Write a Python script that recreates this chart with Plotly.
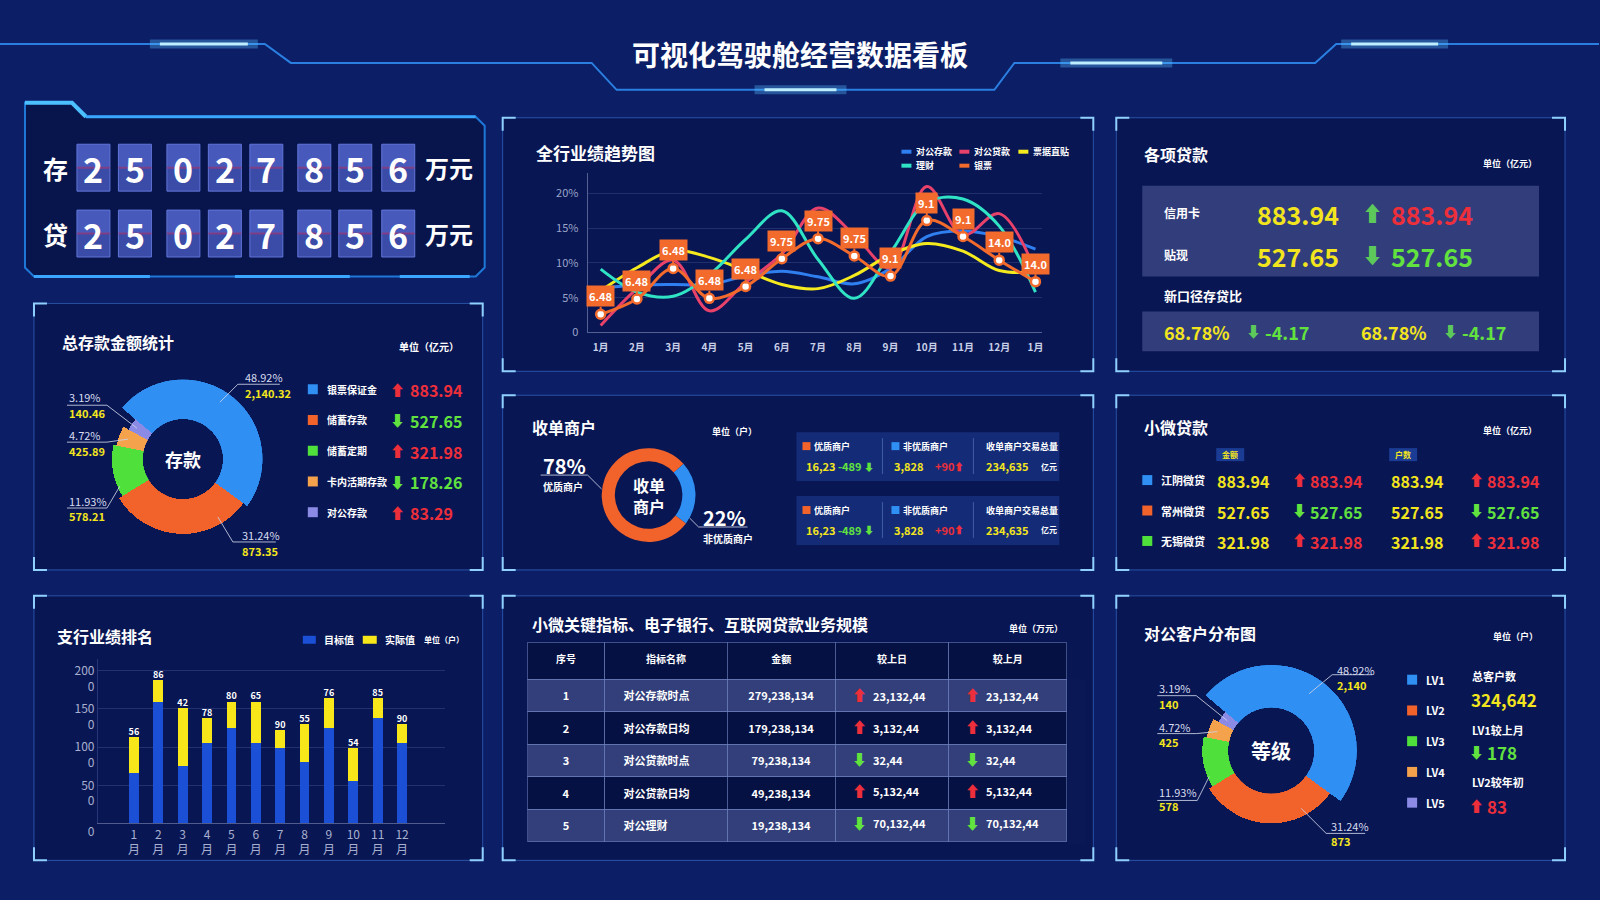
import plotly.graph_objects as go

W, H = 1600, 900
FONT = "Noto Sans CJK SC, Noto Sans, DejaVu Sans, sans-serif"
KY = 1.015  # small vertical correction observed in the photographed page

# ======================= DATA =======================
title_text = "可视化驾驶舱经营数据看板"

counter_labels = ["存", "贷"]
counter_digits = ["2", "5", "0", "2", "7", "8", "5", "6"]
counter_unit = "万元"

deposit_names = ["银票保证金", "储蓄存款", "储蓄定期", "卡内活期存款", "对公存款"]
deposit_share = [48.92, 31.24, 11.93, 4.72, 3.19]
deposit_amount = ["2,140.32", "873.35", "578.21", "425.89", "140.46"]
deposit_change = ["883.94", "527.65", "321.98", "178.26", "83.29"]
deposit_dir = ["up", "down", "up", "down", "up"]

trend_months = ["1月", "2月", "3月", "4月", "5月", "6月", "7月", "8月", "9月", "10月", "11月", "12月", "1月"]
trend_names = ["对公存款", "对公贷款", "票据直贴", "理财", "银票"]
trend_corp_dep = [6.4, 6.8, 6.9, 6.9, 8.1, 8.8, 8.0, 7.0, 9.2, 13.8, 14.6, 13.8, 12.0]
trend_corp_loan = [1.0, 6.3, 10.4, 3.1, 7.2, 11.3, 17.9, 14.0, 9.3, 21.0, 14.0, 17.1, 8.8]
trend_bill = [6.0, 9.3, 11.8, 10.8, 8.9, 6.9, 6.3, 8.2, 11.2, 12.8, 11.7, 8.9, 8.7]
trend_wealth = [9.1, 5.8, 5.2, 8.3, 13.4, 17.5, 10.5, 4.9, 11.5, 18.7, 19.2, 15.3, 5.8]
trend_note = [2.6, 4.8, 9.2, 4.9, 6.6, 10.6, 13.5, 11.0, 8.1, 16.1, 13.8, 10.4, 7.3]
trend_note_labels = ["6.48", "6.48", "6.48", "6.48", "6.48", "9.75", "9.75", "9.75", "9.1", "9.1", "9.1", "14.0", "14.0"]
trend_yticks = [0, 5, 10, 15, 20]
trend_yticktext = ["0", "5%", "10%", "15%", "20%"]

loan_rows = ["信用卡", "贴现"]
loan_values = ["883.94", "527.65"]
loan_changes = ["883.94", "527.65"]
loan_dir = ["up", "down"]
ratio_title = "新口径存贷比"
ratio_values = ["68.78%", "68.78%"]
ratio_changes = ["-4.17", "-4.17"]

merchant_names = ["非优质商户", "优质商户"]
merchant_share = [22, 78]
merchant_stats_head = ["优质商户", "非优质商户", "收单商户交易总量"]
merchant_good = "16,23"
merchant_good_chg = "-489"
merchant_bad = "3,828"
merchant_bad_chg = "+90"
merchant_total = "234,635"

micro_names = ["江阴微贷", "常州微贷", "无锡微贷"]
micro_amount = ["883.94", "527.65", "321.98"]
micro_amount_chg = ["883.94", "527.65", "321.98"]
micro_count = ["883.94", "527.65", "321.98"]
micro_count_chg = ["883.94", "527.65", "321.98"]
micro_dir = ["up", "down", "up"]

branch_months = ["1<br>月", "2<br>月", "3<br>月", "4<br>月", "5<br>月", "6<br>月",
                 "7<br>月", "8<br>月", "9<br>月", "10<br>月", "11<br>月", "12<br>月"]
branch_target = [655, 1594, 751, 1048, 1253, 1048, 983, 799, 1253, 555, 1376, 1048]
branch_actual = [472, 284, 756, 328, 341, 546, 235, 502, 385, 428, 262, 253]
branch_labels = ["56", "86", "42", "78", "80", "65", "90", "55", "76", "54", "85", "90"]
branch_yticks = [0, 500, 1000, 1500, 2000]
branch_yticktext = ["0", "50<br>0", "100<br>0", "150<br>0", "200<br>0"]

tbl_head = ["序号", "指标名称", "金额", "较上日", "较上月"]
tbl_seq = ["1", "2", "3", "4", "5"]
tbl_name = ["对公存款时点", "对公存款日均", "对公贷款时点", "对公贷款日均", "对公理财"]
tbl_amount = ["279,238,134", "179,238,134", "79,238,134", "49,238,134", "19,238,134"]
tbl_day = ["23,132,44", "3,132,44", "32,44", "5,132,44", "70,132,44"]
tbl_month = ["23,132,44", "3,132,44", "32,44", "5,132,44", "70,132,44"]
tbl_dir = ["up", "up", "down", "up", "down"]

cust_names = ["LV1", "LV2", "LV3", "LV4", "LV5"]
cust_share = [48.92, 31.24, 11.93, 4.72, 3.19]
cust_amount = ["2,140", "873", "578", "425", "140"]
cust_total = "324,642"
cust_lv1_chg = "178"
cust_lv2_chg = "83"

# ======================= STYLE =======================
BG = "#0b1e66"
C_BLUE = "#2f8ff2"
C_ORANGE = "#f2622b"
C_GREEN = "#4fe03c"
C_LORANGE = "#f5a24c"
C_PURPLE = "#8b8be6"
SLICE_COLORS = [C_BLUE, C_ORANGE, C_GREEN, C_LORANGE, C_PURPLE]
C_YELLOW = "#f3e51d"
C_RED = "#ec2f3a"
C_GTXT = "#62e23f"
C_GARROW = "#5cc95a"
C_LABEL = "#d8dcf0"
C_LEADER = "rgba(205,210,230,0.85)"
TREND_COLORS = ["#2f7ff0", "#e8416a", "#f4ea1e", "#2fe3c4", "#f26a2c"]
UP, DOWN = "⬆", "⬇"


def X(px):
    return px / W


def Y(py):
    return 1 - py * KY / H


shapes, annos = [], []


def rect(x0, y0, x1, y1, fill="rgba(0,0,0,0)", line="rgba(0,0,0,0)", lw=0):
    shapes.append(dict(type="rect", xref="paper", yref="paper", x0=X(x0), x1=X(x1),
                       y0=Y(y1), y1=Y(y0), fillcolor=fill, line=dict(color=line, width=lw),
                       layer="below"))


def seg(pts, color, w=1, fill=None, closed=False):
    d = "M " + " L ".join(f"{X(a):.5f},{Y(b):.5f}" for a, b in pts)
    if closed:
        d += " Z"
    shapes.append(dict(type="path", xref="paper", yref="paper", path=d,
                       line=dict(color=color, width=w),
                       fillcolor=fill or "rgba(0,0,0,0)", layer="above" if fill is None else "below"))


def txt(x, y, s, size=12, color="#ffffff", bold=False, anchor="left", ya="middle"):
    annos.append(dict(xref="paper", yref="paper", x=X(x), y=Y(y),
                      text=f"<b>{s}</b>" if bold else s, showarrow=False,
                      xanchor=anchor, yanchor=ya,
                      font=dict(family=FONT, size=size, color=color)))


def panel(x0, y0, x1, y1):
    rect(x0, y0, x1, y1, fill="rgba(3,10,48,0.35)", line="rgba(70,130,230,0.55)", lw=1)
    L = 13
    for cx, cy, dx, dy in [(x0, y0, 1, 1), (x1, y0, -1, 1), (x0, y1, 1, -1), (x1, y1, -1, -1)]:
        seg([(cx + dx * L, cy), (cx, cy), (cx, cy + dy * L)], "#8fd0ff", 2)


def slices(shares, total=360.0):
    widths = [s / 100 * total for s in shares]
    centers, acc = [], 0
    for w in widths:
        centers.append(acc + w / 2)
        acc += w
    return centers, widths


# ======================= HEADER =======================
hdr = [(0, 44), (265, 44), (291, 63), (592, 63), (617, 90), (995, 90), (1015, 63),
       (1316, 63), (1337, 44), (1600, 44)]
seg(hdr, "#2a7fe0", 2)
for (a, b, yy) in [(150, 258, 44), (755, 847, 90), (1061, 1173, 63), (1342, 1449, 44)]:
    seg([(a, yy), (b, yy)], "rgba(90,190,255,0.35)", 9)
    seg([(a + 10, yy), (b - 10, yy)], "#bdeeff", 3)
txt(801, 54, title_text, 28, "#ffffff", True, "center")

# ======================= COUNTER PANEL =======================
frame = [(25, 103), (72, 103), (86, 117), (476, 117), (485, 126), (485, 268), (476, 277),
         (34, 277), (25, 268)]
seg(frame, "#1f78d8", 2, fill="rgba(5,14,55,0.55)", closed=True)
seg([(25, 103), (72, 103), (86, 117)], "#4cc0ff", 4)
seg([(86, 117), (476, 117)], "#3aa6ff", 3)
for a, b in [(34, 150), (235, 350), (400, 470)]:
    seg([(a, 277), (b, 277)], "#3aa6ff", 3)
tile_cx = [93.5, 135, 183.5, 225, 266.5, 314.5, 355.5, 398.5]
for lab, cy in zip(counter_labels, [168, 234]):
    txt(56, cy, lab, 25, "#ffffff", True, "center")
    for d, cx in zip(counter_digits, tile_cx):
        rect(cx - 16.5, cy - 23.5, cx + 16.5, cy, fill="#4759bb")
        rect(cx - 16.5, cy, cx + 16.5, cy + 23.5, fill="#3a4ba8")
        rect(cx - 16.5, cy - 23.5, cx + 16.5, cy + 23.5, line="#6275d8", lw=1)
        seg([(cx - 16.5, cy), (cx + 16.5, cy)], "rgba(150,60,125,0.75)", 2)
        txt(cx, cy + 1, d, 34, "#ffffff", True, "center")
    txt(449, cy, counter_unit, 24, "#ffffff", True, "center")

# ======================= PANELS =======================
for p in [(34, 304, 483, 571), (34, 597, 483, 862), (503, 118, 1094, 372), (503, 396, 1094, 571),
          (503, 597, 1094, 862), (1117, 118, 1566, 372), (1117, 396, 1566, 571), (1117, 597, 1566, 862)]:
    panel(*p)

fig = go.Figure()

# ======================= DEPOSIT DONUT =======================
DEP_R_PX = [80, 75, 71, 68, 62]
DEP_HOLE = 40
c, w = slices(deposit_share)
fig.add_trace(go.Barpolar(r=[r - DEP_HOLE for r in DEP_R_PX], theta=c, width=w,
                          marker=dict(color=SLICE_COLORS, line=dict(width=0)),
                          subplot="polar", showlegend=False, hoverinfo="skip"))
txt(60, 343, "总存款金额统计", 16, "#ffffff", True)
txt(397, 347, "单位（亿元）", 10, "#ffffff", True)
txt(183, 460, "存款", 18, "#ffffff", True, "center")
dep_lab_pos = [(243, 378, 394, [(220, 403), (238, 385), (280, 385)]),
               (240, 536, 552, [(218, 518), (233, 543), (276, 543)]),
               (67, 502, 517, [(120, 487), (107, 509), (67, 509)]),
               (67, 436, 452, [(128, 440), (107, 443), (67, 443)]),
               (67, 398, 414, [(137, 429), (107, 406), (67, 406)])]
for (lx, py_, vy, pts), pct, amt in zip(dep_lab_pos, deposit_share, deposit_amount):
    seg(pts, C_LEADER, 1)
    txt(lx, py_, f"{pct:.2f}%", 11, C_LABEL)
    txt(lx, vy, amt, 11, C_YELLOW, True)
for i, (nm, chg, dr) in enumerate(zip(deposit_names, deposit_change, deposit_dir)):
    yy = 390 + i * 30.8
    rect(308, yy - 5, 318, yy + 5, fill=SLICE_COLORS[i])
    txt(325, yy, nm, 10, "#ffffff", True)
    col = C_RED if dr == "up" else C_GTXT
    txt(398, yy, UP if dr == "up" else DOWN, 15, col, True, "center")
    txt(408, yy + 1, chg, 16, col, True)

# ======================= BRANCH BARS =======================
xs = list(range(len(branch_target)))
fig.add_trace(go.Bar(x=xs, y=branch_target, width=0.4, marker=dict(color="#1b4fd6", line=dict(width=0)),
                     xaxis="x2", yaxis="y2", showlegend=False, hoverinfo="skip"))
fig.add_trace(go.Bar(x=xs, y=branch_actual, width=0.4, marker=dict(color="#f6e61a", line=dict(width=0)),
                     xaxis="x2", yaxis="y2", showlegend=False, hoverinfo="skip"))
fig.add_trace(go.Scatter(x=xs, y=[t + a for t, a in zip(branch_target, branch_actual)],
                         mode="text", text=[f"<b>{s}</b>" for s in branch_labels],
                         textposition="top center", textfont=dict(family=FONT, size=9, color="#ffffff"),
                         xaxis="x2", yaxis="y2", showlegend=False, hoverinfo="skip", cliponaxis=False))
txt(55, 637, "支行业绩排名", 16, "#ffffff", True)
rect(303, 637, 316, 645, fill="#1b4fd6")
txt(322, 641, "目标值", 10, "#ffffff", True)
rect(363, 637, 377, 645, fill="#f6e61a")
txt(383, 641, "实际值", 10, "#ffffff", True)
txt(422, 641, "单位（户）", 8, "#ffffff", True)

# ======================= TREND =======================
trend_series = [trend_corp_dep, trend_corp_loan, trend_bill, trend_wealth, trend_note]
tx = list(range(len(trend_months)))
for nm, ys, col in zip(trend_names, trend_series, TREND_COLORS):
    is_note = nm == "银票"
    fig.add_trace(go.Scatter(x=tx, y=ys, mode="lines+markers" if is_note else "lines",
                             line=dict(color=col, width=3, shape="spline", smoothing=1.0),
                             marker=dict(size=9, color="#ffffff", line=dict(color=col, width=2.5)),
                             xaxis="x", yaxis="y", showlegend=False, hoverinfo="skip",
                             cliponaxis=False))
for i, (v, lab) in enumerate(zip(trend_note, trend_note_labels)):
    annos.append(dict(xref="x", yref="y", x=i, y=v, text=f"<b>{lab}</b>", showarrow=True,
                      arrowhead=0, arrowwidth=2, arrowcolor="#f26a2c", ax=0, ay=-18,
                      bgcolor="#f26a2c", borderpad=2, standoff=3,
                      font=dict(family=FONT, size=11, color="#ffffff")))
txt(534, 153, "全行业绩趋势图", 17, "#ffffff", True)
leg_pos = [(902, 152), (960, 152), (1019, 152), (902, 166), (960, 166)]
for (lx, ly), nm, col in zip(leg_pos, trend_names, TREND_COLORS):
    seg([(lx, ly), (lx + 10, ly)], col, 4)
    txt(lx + 13, ly, nm, 9, "#ffffff", True)

# ======================= LOANS =======================
txt(1143, 154, "各项贷款", 16, "#ffffff", True)
txt(1482, 164, "单位（亿元）", 9, "#ffffff", True)
rect(1143, 186, 1540, 277, fill="rgba(140,150,210,0.32)")
for i, (nm, v, chg, dr) in enumerate(zip(loan_rows, loan_values, loan_changes, loan_dir)):
    yy = 213 + i * 42
    txt(1163, yy, nm, 12, "#ffffff", True)
    txt(1256, yy + 1, v, 25, C_YELLOW, True)
    txt(1373, yy - 1, UP if dr == "up" else DOWN, 21, C_GARROW, True, "center")
    txt(1390, yy + 1, chg, 25, C_RED if dr == "up" else C_GTXT, True)
txt(1163, 296, ratio_title, 13, "#ffffff", True)
rect(1143, 312, 1540, 352, fill="rgba(140,150,210,0.32)")
for x0, v, chg in zip([1163, 1360], ratio_values, ratio_changes):
    txt(x0, 333, v, 18, C_YELLOW, True)
    txt(x0 + 91, 331, DOWN, 15, C_GARROW, True, "center")
    txt(x0 + 101, 333, chg, 18, C_GTXT, True)

# ======================= MERCHANT =======================
fig.add_trace(go.Pie(values=merchant_share, labels=merchant_names, hole=0.72, sort=False,
                     direction="clockwise", rotation=48, textinfo="none",
                     marker=dict(colors=[C_BLUE, C_ORANGE], line=dict(width=0)),
                     domain=dict(x=[X(602), X(696)], y=[Y(543), Y(449)]),
                     showlegend=False, hoverinfo="skip"))
txt(530, 428, "收单商户", 16, "#ffffff", True)
txt(710, 432, "单位（户）", 9, "#ffffff", True)
txt(649, 496, "收单<br>商户", 16, "#ffffff", True, "center")
txt(541, 466, f"{merchant_share[1]}%", 20, "#ffffff", True)
seg([(541, 476), (588, 476), (602, 490)], C_LEADER, 1)
txt(541, 487, merchant_names[1], 10, "#ffffff", True)
txt(701, 518, f"{merchant_share[0]}%", 20, "#ffffff", True)
seg([(690, 519), (699, 528), (748, 528)], C_LEADER, 1)
txt(701, 540, merchant_names[0], 10, "#ffffff", True)
for by in [433, 497]:
    rect(797, by, 1060, by + 49, fill="rgba(35,70,165,0.45)")
    seg([(883, by + 6), (883, by + 42)], "rgba(120,150,220,0.45)", 1)
    seg([(974, by + 6), (974, by + 42)], "rgba(120,150,220,0.45)", 1)
    hy, vy = by + 14, by + 34
    rect(803, hy - 4, 811, hy + 4, fill=C_ORANGE)
    txt(813, hy, merchant_stats_head[0], 9, "#ffffff", True)
    rect(892, hy - 4, 900, hy + 4, fill=C_BLUE)
    txt(902, hy, merchant_stats_head[1], 9, "#ffffff", True)
    txt(985, hy, merchant_stats_head[2], 9, "#ffffff", True)
    txt(805, vy, merchant_good, 11, C_YELLOW, True)
    txt(837, vy, merchant_good_chg, 11, C_GTXT, True)
    txt(870, vy, DOWN, 10, C_GTXT, True, "center")
    txt(893, vy, merchant_bad, 11, C_YELLOW, True)
    txt(934, vy, merchant_bad_chg, 11, C_RED, True)
    txt(960, vy, UP, 10, C_RED, True, "center")
    txt(985, vy, merchant_total, 11, C_YELLOW, True)
    txt(1040, vy, "亿元", 8, "#ffffff", True)

# ======================= MICRO LOANS =======================
txt(1143, 428, "小微贷款", 16, "#ffffff", True)
txt(1482, 431, "单位（亿元）", 9, "#ffffff", True)
for cx0, lab in [(1217, "金额"), (1390, "户数")]:
    rect(cx0, 449, cx0 + 28, 462, fill="#1b3c94")
    txt(cx0 + 14, 455.5, lab, 8, C_YELLOW, True, "center")
for i, nm in enumerate(micro_names):
    yy = 481 + i * 30.5
    dr = micro_dir[i]
    col = C_RED if dr == "up" else C_GTXT
    rect(1143, yy - 5, 1153, yy + 5, fill=SLICE_COLORS[i])
    txt(1160, yy, nm, 11, "#ffffff", True)
    txt(1216, yy + 1, micro_amount[i], 16, C_YELLOW, True)
    txt(1300, yy - 1, UP if dr == "up" else DOWN, 15, col, True, "center")
    txt(1309, yy + 1, micro_amount_chg[i], 16, col, True)
    txt(1390, yy + 1, micro_count[i], 16, C_YELLOW, True)
    txt(1477, yy - 1, UP if dr == "up" else DOWN, 15, col, True, "center")
    txt(1486, yy + 1, micro_count_chg[i], 16, col, True)

# ======================= TABLE =======================
txt(530, 625, "小微关键指标、电子银行、互联网贷款业务规模", 16, "#ffffff", True)
txt(1008, 630, "单位（万元）", 9, "#ffffff", True)

TBL_TOP, HEAD_H, ROW_H = 644, 36, 32
LIGHT, DARK = "rgba(125,135,195,0.36)", "rgba(5,14,55,0.55)"
row_fill = [LIGHT if i % 2 == 0 else DARK for i in range(len(tbl_seq))]
fig.add_trace(go.Table(
    domain=dict(x=[X(528), X(1068)], y=[Y(846), Y(TBL_TOP)]),
    columnwidth=[77, 123, 108, 114, 118],
    header=dict(values=[f"<b>{h}</b>" for h in tbl_head], height=HEAD_H * KY, align="center",
                fill_color=DARK, line=dict(color="rgba(110,130,190,0.55)", width=1),
                font=dict(family=FONT, size=10, color="#ffffff")),
    cells=dict(values=[[f"<b>{s}</b>" for s in tbl_seq],
                       [f"<b>\u2002\u2002{n}</b>" for n in tbl_name],
                       [f"<b>{a}</b>" for a in tbl_amount],
                       [""] * len(tbl_seq),
                       [""] * len(tbl_seq)],
               height=ROW_H * KY, align=["center", "left", "center", "left", "left"],
               fill_color=[row_fill] * 5, line=dict(color="rgba(110,130,190,0.55)", width=1),
               font=dict(family=FONT, size=11, color="#ffffff"))))
for i, d in enumerate(tbl_dir):
    yy = TBL_TOP + HEAD_H + ROW_H * i + ROW_H / 2
    col = C_RED if d == "up" else C_GTXT
    for ax_, val in ((860, tbl_day[i]), (973, tbl_month[i])):
        txt(ax_, yy, UP if d == "up" else DOWN, 15, col, True, "center")
        txt(ax_ + 12, yy + 1, val, 11, "#ffffff", True)

# ======================= CUSTOMER DONUT =======================
CUST_R_PX = [86, 73, 69, 66, 60]
CUST_HOLE = 43
c2, w2 = slices(cust_share)
fig.add_trace(go.Barpolar(r=[r - CUST_HOLE for r in CUST_R_PX], theta=c2, width=w2,
                          marker=dict(color=SLICE_COLORS, line=dict(width=0)),
                          subplot="polar2", showlegend=False, hoverinfo="skip"))
txt(1143, 634, "对公客户分布图", 16, "#ffffff", True)
txt(1492, 638, "单位（户）", 9, "#ffffff", True)
txt(1272, 752, "等级", 20, "#ffffff", True, "center")
cust_lab_pos = [(1336, 671, 686, [(1310, 695), (1333, 676), (1373, 676)]),
                (1330, 828, 843, [(1302, 810), (1327, 835), (1366, 835)]),
                (1158, 794, 808, [(1210, 778), (1198, 802), (1158, 802)]),
                (1158, 728, 743, [(1218, 733), (1197, 735), (1158, 735)]),
                (1158, 689, 705, [(1228, 722), (1197, 697), (1158, 697)])]
for (lx, py_, vy, pts), pct, amt in zip(cust_lab_pos, cust_share, cust_amount):
    seg(pts, C_LEADER, 1)
    txt(lx, py_, f"{pct:.2f}%", 11, C_LABEL)
    txt(lx, vy, amt, 11, C_YELLOW, True)
for i, nm in enumerate(cust_names):
    yy = 681 + i * 30.8
    rect(1408, yy - 5, 1418, yy + 5, fill=SLICE_COLORS[i])
    txt(1425, yy, nm, 11, "#ffffff", True)
txt(1471, 677, "总客户数", 11, "#ffffff", True)
txt(1470, 701, cust_total, 17, C_YELLOW, True)
txt(1471, 731, "LV1较上月", 11, "#ffffff", True)
txt(1477, 753, DOWN, 15, C_GTXT, True, "center")
txt(1486, 754, cust_lv1_chg, 17, C_GTXT, True)
txt(1471, 784, "LV2较年初", 11, "#ffffff", True)
txt(1477, 807, UP, 15, C_RED, True, "center")
txt(1486, 808, cust_lv2_chg, 17, C_RED, True)

# ======================= LAYOUT =======================
axis_font = dict(family=FONT, size=11, color="#9aa4c8")
polar_common = dict(bgcolor="rgba(0,0,0,0)", hole=0.5, bargap=0,
                    angularaxis=dict(rotation=140, direction="clockwise", visible=False))
fig.update_layout(
    width=W, height=H, margin=dict(l=0, r=0, t=0, b=0),
    paper_bgcolor=BG, plot_bgcolor="rgba(0,0,0,0)",
    font=dict(family=FONT, color="#ffffff"),
    barmode="stack", showlegend=False,
    polar=dict(domain=dict(x=[X(103), X(263)], y=[Y(540), Y(380)]),
               radialaxis=dict(range=[0, 80 - DEP_HOLE], visible=False), **polar_common),
    polar2=dict(domain=dict(x=[X(1186), X(1358)], y=[Y(838), Y(666)]),
                radialaxis=dict(range=[0, 86 - CUST_HOLE], visible=False), **polar_common),
    xaxis=dict(domain=[X(588), X(1043)], anchor="y", range=[-0.36, 12.19],
               tickmode="array", tickvals=tx, ticktext=[f"<b>{m}</b>" for m in trend_months],
               tickfont=dict(family=FONT, size=10, color="#c8d0e8"), ticklabelstandoff=6,
               showgrid=False, showline=True, linecolor="rgba(160,170,210,0.5)", zeroline=False,
               ticks="", fixedrange=True),
    yaxis=dict(domain=[Y(333), Y(173)], anchor="x", range=[0, 23],
               tickmode="array", tickvals=trend_yticks, ticktext=trend_yticktext,
               tickfont=axis_font, ticklabelstandoff=6,
               showgrid=True, gridcolor="rgba(120,140,200,0.22)", showline=True,
               linecolor="rgba(160,170,210,0.5)", zeroline=False, ticks="", fixedrange=True),
    xaxis2=dict(domain=[X(98), X(445)], anchor="y2", range=[-1.475, 12.75],
                tickmode="array", tickvals=xs, ticktext=branch_months,
                tickfont=dict(family=FONT, size=12, color="#a8b0d0"),
                showgrid=False, showline=True, linecolor="rgba(150,160,200,0.5)", zeroline=False,
                ticks="", fixedrange=True),
    yaxis2=dict(domain=[Y(825), Y(660)], anchor="x2", range=[0, 2157],
                tickmode="array", tickvals=branch_yticks, ticktext=branch_yticktext,
                tickfont=dict(family=FONT, size=12, color="#a8b0d0"), ticklabelshift=8,
                showgrid=True, gridcolor="rgba(110,130,200,0.25)", showline=True,
                linecolor="rgba(110,130,200,0.3)", zeroline=False, ticks="", fixedrange=True),
    shapes=shapes, annotations=annos,
)

fig.write_html("out.html")
